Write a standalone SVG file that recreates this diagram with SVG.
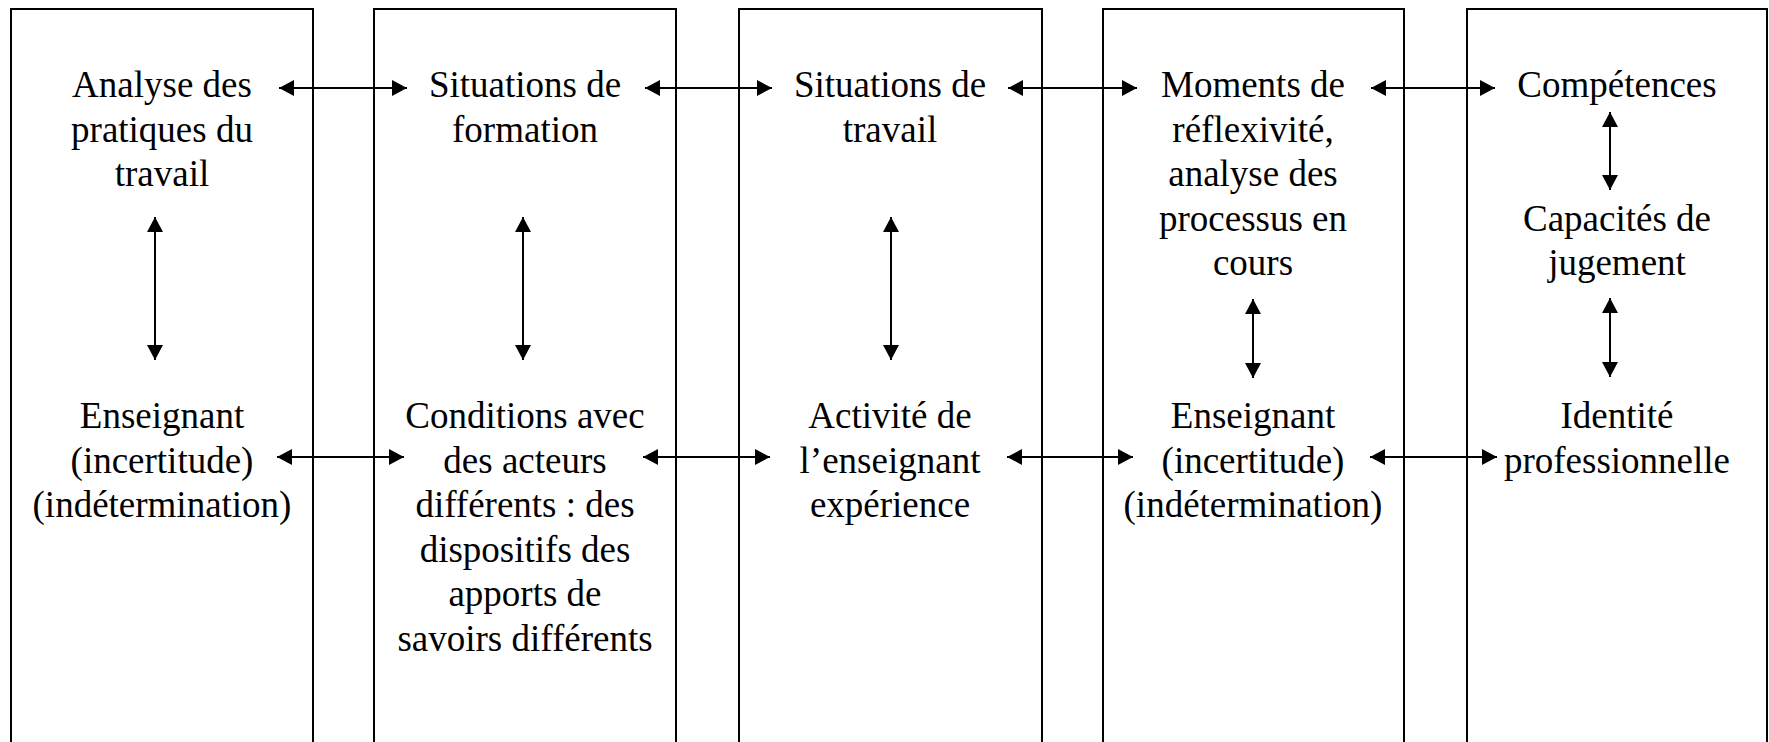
<svg xmlns="http://www.w3.org/2000/svg" width="1769" height="742" viewBox="0 0 1769 742" xml:lang="fr">
<defs>
<marker id="ah" markerUnits="userSpaceOnUse" markerWidth="16" markerHeight="16" refX="15" refY="8" orient="auto-start-reverse" viewBox="0 0 16 16">
<path d="M0,0 L15,8 L0,16 z" fill="#000"/>
</marker>
</defs>
<rect width="1769" height="742" fill="#fff"/>
<g fill="none" stroke="#000" stroke-width="2">
<path id="box1" d="M11,760 V9 H313 V760"/>
<path id="box2" d="M374,760 V9 H676 V760"/>
<path id="box3" d="M739,760 V9 H1042 V760"/>
<path id="box4" d="M1103,760 V9 H1404 V760"/>
<path id="box5" d="M1467,760 V9 H1767 V760"/>
</g>
<g font-family="Tinos, 'Liberation Serif', 'Times New Roman', serif" font-size="37" text-anchor="middle" fill="#000">
<g id="n-analyse"><text x="162" y="97">Analyse des</text><text x="162" y="141.5">pratiques du</text><text x="162" y="186">travail</text></g>
<g id="n-enseignant1"><text x="162" y="428">Enseignant</text><text x="162" y="472.5">(incertitude)</text><text x="162" y="517">(indétermination)</text></g>
<g id="n-sitform"><text x="525" y="97">Situations de</text><text x="525" y="141.5">formation</text></g>
<g id="n-conditions"><text x="525" y="428">Conditions avec</text><text x="525" y="472.5">des acteurs</text><text x="525" y="517">différents : des</text><text x="525" y="561.5">dispositifs des</text><text x="525" y="606">apports de</text><text x="525" y="650.5">savoirs différents</text></g>
<g id="n-sittrav"><text x="890" y="97">Situations de</text><text x="890" y="141.5">travail</text></g>
<g id="n-activite"><text x="890" y="428">Activité de</text><text x="890" y="472.5">l’enseignant</text><text x="890" y="517">expérience</text></g>
<g id="n-moments"><text x="1253" y="97">Moments de</text><text x="1253" y="141.5">réflexivité,</text><text x="1253" y="186">analyse des</text><text x="1253" y="230.5">processus en</text><text x="1253" y="275">cours</text></g>
<g id="n-enseignant2"><text x="1253" y="428">Enseignant</text><text x="1253" y="472.5">(incertitude)</text><text x="1253" y="517">(indétermination)</text></g>
<g id="n-competences"><text x="1617" y="97">Compétences</text></g>
<g id="n-capacites"><text x="1617" y="230.5">Capacités de</text><text x="1617" y="275">jugement</text></g>
<g id="n-identite"><text x="1617" y="428">Identité</text><text x="1617" y="472.5">professionnelle</text></g>
</g>
<g id="connectors" stroke="#000" stroke-width="2" fill="none" marker-start="url(#ah)" marker-end="url(#ah)">
<line x1="279" y1="88" x2="407" y2="88"/>
<line x1="645" y1="88" x2="772" y2="88"/>
<line x1="1008" y1="88" x2="1137" y2="88"/>
<line x1="1371" y1="88" x2="1495" y2="88"/>
<line x1="277" y1="457" x2="404" y2="457"/>
<line x1="643" y1="457" x2="770" y2="457"/>
<line x1="1007" y1="457" x2="1133" y2="457"/>
<line x1="1370" y1="457" x2="1497" y2="457"/>
<line x1="155" y1="217" x2="155" y2="360"/>
<line x1="523" y1="217" x2="523" y2="360"/>
<line x1="891" y1="217" x2="891" y2="360"/>
<line x1="1253" y1="299" x2="1253" y2="378"/>
<line x1="1610" y1="112" x2="1610" y2="190"/>
<line x1="1610" y1="298" x2="1610" y2="377"/>
</g>
</svg>
